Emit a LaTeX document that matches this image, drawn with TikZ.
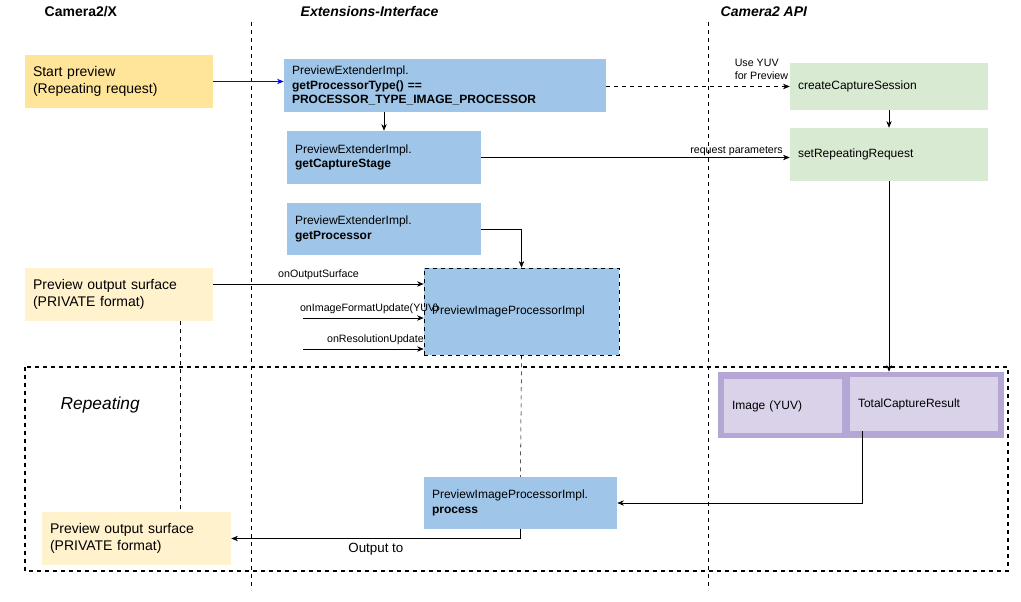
\documentclass[tikz,border=0pt]{standalone}
\usepackage{fontspec}
\setmainfont{Liberation Sans}
\usetikzlibrary{arrows.meta, positioning}
\definecolor{startyel}{RGB}{255,229,153}
\definecolor{surfyel}{RGB}{255,242,204}
\definecolor{extblue}{RGB}{159,197,232}
\definecolor{apigreen}{RGB}{217,234,211}
\definecolor{purpframe}{RGB}{180,167,214}
\definecolor{purpbox}{RGB}{217,210,233}
\begin{document}
\begin{tikzpicture}[
      x=0.75pt, y=-0.75pt,
      box/.style={rectangle, inner xsep=6pt, inner ysep=2pt, align=left, font=\fontsize{9}{11}\selectfont},
      bigbox/.style={box, font=\fontsize{10.5}{13}\selectfont},
      lbl/.style={font=\fontsize{8}{10}\selectfont, inner sep=1pt},
      >={Stealth[length=5pt, width=4pt]}
    ]
    \useasboundingbox (0,0) rectangle (1021,602);

    % Headers
    \node[anchor=west, font=\bfseries\fontsize{10.5}{12}\selectfont] (hcam) at (40,12) {Camera2/X};
    \node[anchor=west, font=\bfseries\itshape\fontsize{10.5}{12}\selectfont] (hext) at (296,12) {Extensions-Interface};
    \node[anchor=west, font=\bfseries\itshape\fontsize{10.5}{12}\selectfont] (hapi) at (716,12) {Camera2 API};

    % Lanes
    \draw[dashed, thin] (251,22) -- (251,590);
    \draw[dashed, thin] (708,22) -- (708,590);

    % Repeating region
    \draw[dashed, thick] (25,367) rectangle (1008,571);
    \node[anchor=west, font=\itshape\fontsize{13}{15}\selectfont] (rep) at (56,405) {Repeating};

    % Nodes
    \node[bigbox, fill=startyel, text width=129pt, minimum height=39.75pt] (start) at (119,81.5) {Start preview\\(Repeating request)};
    \node[box, fill=extblue, text width=229.5pt, minimum height=39.75pt] (ptype) at (445,85.5) {PreviewExtenderImpl.\\\textbf{getProcessorType() ==}\\\textbf{PROCESSOR\_TYPE\_IMAGE\_PROCESSOR}};
    \node[box, fill=extblue, text width=133.5pt, minimum height=39.75pt] (stage) at (384,157.5) {PreviewExtenderImpl.\\\textbf{getCaptureStage}};
    \node[box, fill=extblue, text width=133.5pt, minimum height=39pt] (getproc) at (384,229) {PreviewExtenderImpl.\\\textbf{getProcessor}};
    \node[box, fill=apigreen, text width=136.5pt, minimum height=35.25pt] (session) at (889,86.5) {createCaptureSession};
    \node[box, fill=apigreen, text width=136.5pt, minimum height=39.75pt] (repreq) at (889,154.5) {setRepeatingRequest};
    \node[bigbox, fill=surfyel, text width=129pt, minimum height=39.75pt] (surf) at (119,294.5) {Preview output surface\\(PRIVATE format)};
    \node[box, fill=extblue, draw, dashed, text width=134.25pt, minimum height=65.25pt] (pimpl) at (521.5,311.5) {PreviewImageProcessorImpl};
    \node[rectangle, fill=purpframe, minimum width=214.5pt, minimum height=49.5pt] (frame) at (861,405) {};
    \node[box, fill=purpbox, text width=76.5pt, minimum height=40.5pt] (img) at (783,406) {Image (YUV)};
    \node[box, fill=purpbox, text width=99pt, minimum height=40.5pt] (tcr) at (924,404) {TotalCaptureResult};
    \node[box, fill=extblue, text width=132.75pt, minimum height=39pt] (process) at (520.5,503) {PreviewImageProcessorImpl.\\\textbf{process}};
    \node[bigbox, fill=surfyel, text width=129.75pt, minimum height=39.75pt] (surf2) at (136.5,538.5) {Preview output surface\\(PRIVATE format)};

    % Free ends
    \coordinate (fmtin) at (303,318);
    \coordinate (resin) at (303,349);
    \coordinate (tcrout) at (862,431);
    \coordinate (surfdash) at (180,321);
    \coordinate (surfdash2) at (180,512);

    % Arrows
    \draw[->, blue, thick] (start) -- (start.east -| ptype.west);
    \draw[->, dashed] (ptype.east |- session) -- (session.west) node[lbl, pos=1, above left, align=left, yshift=4pt] {Use YUV\\for Preview};
    \draw[->] (session) -- (repreq);
    \draw[->] (stage.north |- ptype.south) -- (stage.north);
    \draw[->] (stage.east) -- (repreq.west |- stage.east) node[lbl, pos=1, above left, xshift=-4pt] {request parameters};
    \draw[->] (getproc.east) -| (pimpl.north);
    \draw[->] (surf.east |- 0,284) -- (pimpl.west |- 0,284) node[lbl, midway, above, yshift=2pt] {onOutputSurface};
    \draw[->] (fmtin) -- (fmtin -| pimpl.west) node[lbl, pos=0.55, above, yshift=2pt] {onImageFormatUpdate(YUV)};
    \draw[->] (resin) -- (resin -| pimpl.west) node[lbl, pos=0.6, above, yshift=2pt] {onResolutionUpdate};
    \draw[dashed] (surfdash) -- (surfdash2);
    \draw[dashed] (pimpl.south) -- (process.north);
    \draw[->] (repreq.south) -- (repreq.south |- frame.north);
    \draw[->] (tcrout) |- (process.east);
    \draw[->] (process.south) |- (surf2.east) node[pos=0.75, below, font=\fontsize{10}{12}\selectfont] {Output to};

  \end{tikzpicture}
\end{document}
